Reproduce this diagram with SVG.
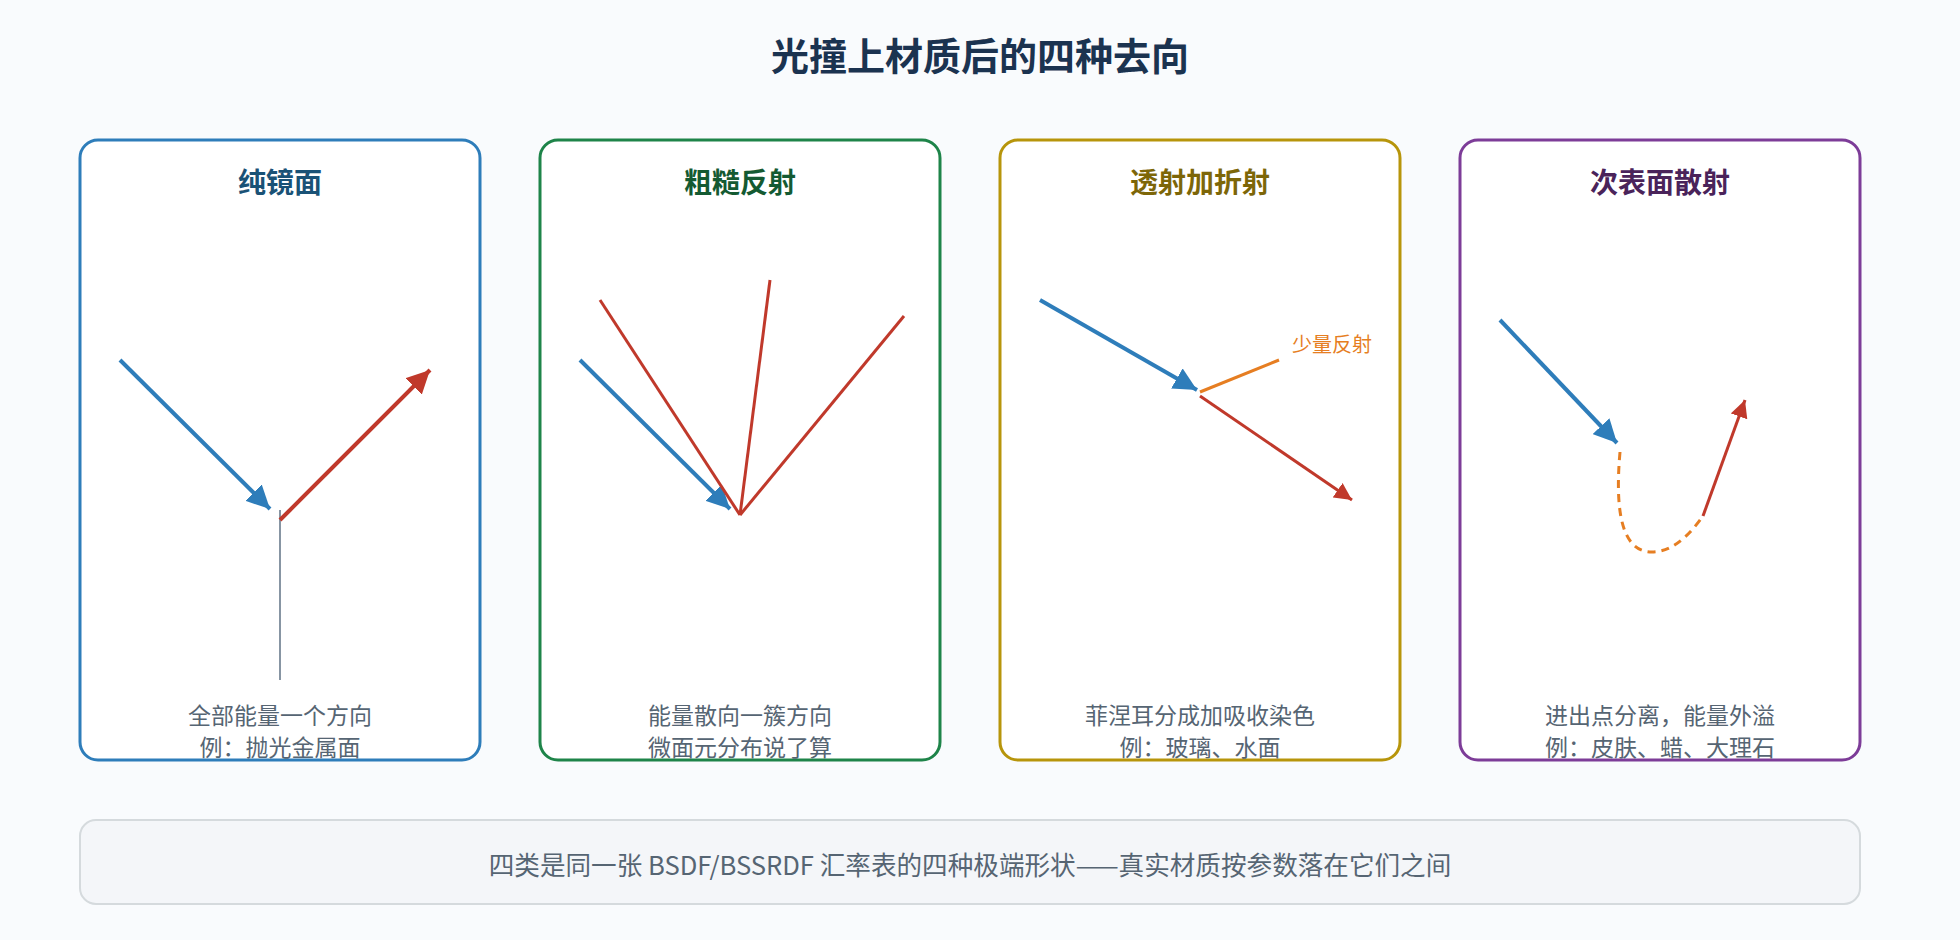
<svg xmlns="http://www.w3.org/2000/svg" width="1960" height="940" viewBox="0 0 1960 940">
  <style>
    .title { font-family: "Noto Sans CJK SC", "Liberation Sans", sans-serif; font-weight: 700; font-size: 38px; fill: #1b3350; text-anchor: middle; }
    .ptitle { font-family: "Noto Sans CJK SC", "Liberation Sans", sans-serif; font-weight: 700; font-size: 28px; text-anchor: middle; }
    .desc { font-family: "Noto Sans CJK SC", "Liberation Sans", sans-serif; font-size: 23px; fill: #566573; text-anchor: middle; }
    .note { font-family: "Noto Sans CJK SC", "Liberation Sans", sans-serif; font-size: 25.6px; fill: #566573; text-anchor: middle; }
    .small { font-family: "Noto Sans CJK SC", "Liberation Sans", sans-serif; font-size: 20px; fill: #e67e22; }
    .panel { fill: #ffffff; stroke-width: 3; }
    .inc { stroke: #2e7dba; stroke-width: 4; fill: none; }
    .out { stroke: #c0392b; fill: none; }
    .ref { stroke: #e67e22; stroke-width: 3; fill: none; }
    .normal { stroke: #8795a3; stroke-width: 2; fill: none; }
  </style>
  <defs>
    <marker id="ab" viewBox="0 0 10 10" refX="10" refY="5" markerWidth="5.8" markerHeight="5.8" markerUnits="strokeWidth" orient="auto">
      <path d="M0,0 L10,5 L0,10 z" fill="#2e7dba"/>
    </marker>
    <marker id="ar" viewBox="0 0 10 10" refX="10" refY="5" markerWidth="5.8" markerHeight="5.8" markerUnits="strokeWidth" orient="auto">
      <path d="M0,0 L10,5 L0,10 z" fill="#c0392b"/>
    </marker>
  </defs>
  <rect x="0" y="0" width="1960" height="940" fill="#f9fbfd"/>
  <text class="title" x="980" y="70">光撞上材质后的四种去向</text>

  <g id="panel-specular">
    <rect class="panel" x="80" y="140" width="400" height="620" rx="18" stroke="#2e7dba"/>
    <text class="ptitle" x="280" y="193" fill="#1a5276">纯镜面</text>
    <text class="desc" x="280" y="724">全部能量一个方向</text>
    <text class="desc" x="280" y="756">例：抛光金属面</text>
  </g>
  <g id="panel-glossy">
    <rect class="panel" x="540" y="140" width="400" height="620" rx="18" stroke="#1e8449"/>
    <text class="ptitle" x="740" y="193" fill="#145a32">粗糙反射</text>
    <text class="desc" x="740" y="724">能量散向一簇方向</text>
    <text class="desc" x="740" y="756">微面元分布说了算</text>
  </g>
  <g id="panel-refraction">
    <rect class="panel" x="1000" y="140" width="400" height="620" rx="18" stroke="#b7950b"/>
    <text class="ptitle" x="1200" y="193" fill="#7d6608">透射加折射</text>
    <text class="small" x="1292" y="352">少量反射</text>
    <text class="desc" x="1200" y="724">菲涅耳分成加吸收染色</text>
    <text class="desc" x="1200" y="756">例：玻璃、水面</text>
  </g>
  <g id="panel-subsurface">
    <rect class="panel" x="1460" y="140" width="400" height="620" rx="18" stroke="#7d3c98"/>
    <text class="ptitle" x="1660" y="193" fill="#4a235a">次表面散射</text>
    <text class="desc" x="1660" y="724">进出点分离，能量外溢</text>
    <text class="desc" x="1660" y="756">例：皮肤、蜡、大理石</text>
  </g>

  <g id="connectors">
    <!-- panel 1 -->
    <line class="normal" x1="280" y1="510" x2="280" y2="680"/>
    <line class="inc" x1="120" y1="360" x2="270" y2="509" marker-end="url(#ab)"/>
    <line class="out" stroke-width="4" x1="280" y1="520" x2="430" y2="370" marker-end="url(#ar)"/>
    <!-- panel 2 -->
    <line class="inc" x1="580" y1="360" x2="730" y2="509" marker-end="url(#ab)"/>
    <line class="out" stroke-width="3" x1="740" y1="515" x2="600" y2="300"/>
    <line class="out" stroke-width="3" x1="740" y1="515" x2="770" y2="280"/>
    <line class="out" stroke-width="3" x1="740" y1="515" x2="904" y2="316"/>
    <!-- panel 3 -->
    <line class="inc" x1="1040" y1="300" x2="1197" y2="390" marker-end="url(#ab)"/>
    <line class="ref" x1="1200" y1="392" x2="1279" y2="360"/>
    <line class="out" stroke-width="3" x1="1200" y1="396" x2="1352" y2="500" marker-end="url(#ar)"/>
    <!-- panel 4 -->
    <line class="inc" x1="1500" y1="320" x2="1617" y2="443" marker-end="url(#ab)"/>
    <path class="ref" stroke-dasharray="8 6" d="M1620,452 C1614,520 1625,552 1652,552 C1675,552 1693,530 1703,516"/>
    <line class="out" stroke-width="3" x1="1703" y1="516" x2="1745" y2="400" marker-end="url(#ar)"/>
  </g>

  <g id="summary">
    <rect x="80" y="820" width="1780" height="84" rx="16" fill="#f4f6f9" stroke="#d5dadd" stroke-width="2"/>
    <text class="note" x="970" y="875">四类是同一张 BSDF/BSSRDF 汇率表的四种极端形状——真实材质按参数落在它们之间</text>
  </g>
</svg>
